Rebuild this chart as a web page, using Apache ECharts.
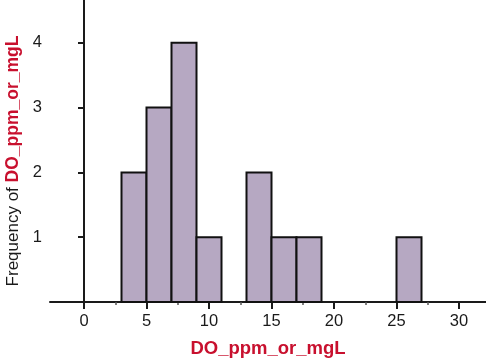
<!DOCTYPE html>
<html>
<head>
<meta charset="utf-8">
<script src="https://cdn.jsdelivr.net/npm/echarts@6/dist/echarts.min.js"></script>
<style>
  html, body { margin: 0; padding: 0; background: #fff; }
  #chart { width: 486px; height: 363px; }
</style>
</head>
<body>
<div id="chart"></div>
<script>
// Histogram of dissolved oxygen readings: bin edges and counts
const binStart = [3, 5, 7, 9, 13, 15, 17, 25];
const binEnd   = [5, 7, 9, 11, 15, 17, 19, 27];
const counts   = [2, 3, 4, 1, 2, 1, 1, 1];

const xTickValues  = [0, 5, 10, 15, 20, 25, 30];
const xMinorValues = [2.5, 7.5, 12.5, 17.5, 22.5, 27.5];
const yTickValues  = [1, 2, 3, 4];

const xName = 'DO_ppm_or_mgL';
const yNamePrefix = 'Frequency of ';

const FONT = '"Liberation Sans", Arial, sans-serif';
const RED = '#c8102e';
const INK = '#1a1a1a';

const bins = binStart.map((s, i) => [s, binEnd[i], counts[i]]);

const chart = echarts.init(document.getElementById('chart'), null, { renderer: 'canvas' });

chart.setOption({
  animation: false,
  backgroundColor: '#ffffff',
  grid: { left: 50, right: 0, top: 0, bottom: 61, containLabel: false, outerBoundsMode: 'none' },
  xAxis: [
    {
      type: 'value',
      min: -2.72,
      max: 32.16,
      splitLine: { show: false },
      axisLine: { show: true, onZero: false, lineStyle: { color: INK, width: 2 } },
      axisTick: { show: true, length: 7, customValues: xTickValues, lineStyle: { color: INK, width: 2 } },
      axisLabel: { customValues: xTickValues, color: INK, fontSize: 16.5, fontFamily: FONT, margin: 11 },
      name: xName,
      nameLocation: 'middle',
      nameGap: 37,
      nameTextStyle: { color: RED, fontSize: 18.5, fontWeight: 'bold', fontFamily: FONT }
    },
    {
      type: 'value',
      position: 'bottom',
      min: -2.72,
      max: 32.16,
      splitLine: { show: false },
      axisLine: { show: false },
      axisTick: { show: true, length: 3, customValues: xMinorValues, lineStyle: { color: '#555', width: 1.5 } },
      axisLabel: { show: false }
    }
  ],
  yAxis: {
    type: 'value',
    min: 0,
    max: 4.66,
    splitLine: { show: false },
    axisLine: { show: true, lineStyle: { color: INK, width: 2 } },
    axisTick: { show: true, length: 6, customValues: yTickValues, lineStyle: { color: INK, width: 2 } },
    axisLabel: { customValues: yTickValues, color: INK, fontSize: 16.5, fontFamily: FONT, margin: 8 },
    name: '{a|' + yNamePrefix + '}{b|' + xName + '}',
    nameLocation: 'middle',
    nameRotate: 90,
    nameGap: 16,
    nameTextStyle: {
      padding: [0, 20, 0, 0],
      rich: {
        a: { color: INK, fontSize: 17, fontFamily: FONT },
        b: { color: RED, fontSize: 17.5, fontWeight: 'bold', fontFamily: FONT }
      }
    }
  },
  series: [{
    type: 'custom',
    xAxisIndex: 0,
    yAxisIndex: 0,
    data: bins,
    encode: { x: [0, 1], y: 2 },
    renderItem: function (params, api) {
      const p0 = api.coord([api.value(0), 0]);
      const p1 = api.coord([api.value(1), api.value(2)]);
      return {
        type: 'rect',
        shape: { x: p0[0], y: p1[1], width: p1[0] - p0[0], height: p0[1] - p1[1] },
        style: { fill: '#b6a8c2', stroke: '#111111', lineWidth: 2 }
      };
    }
  }]
});
</script>
</body>
</html>
